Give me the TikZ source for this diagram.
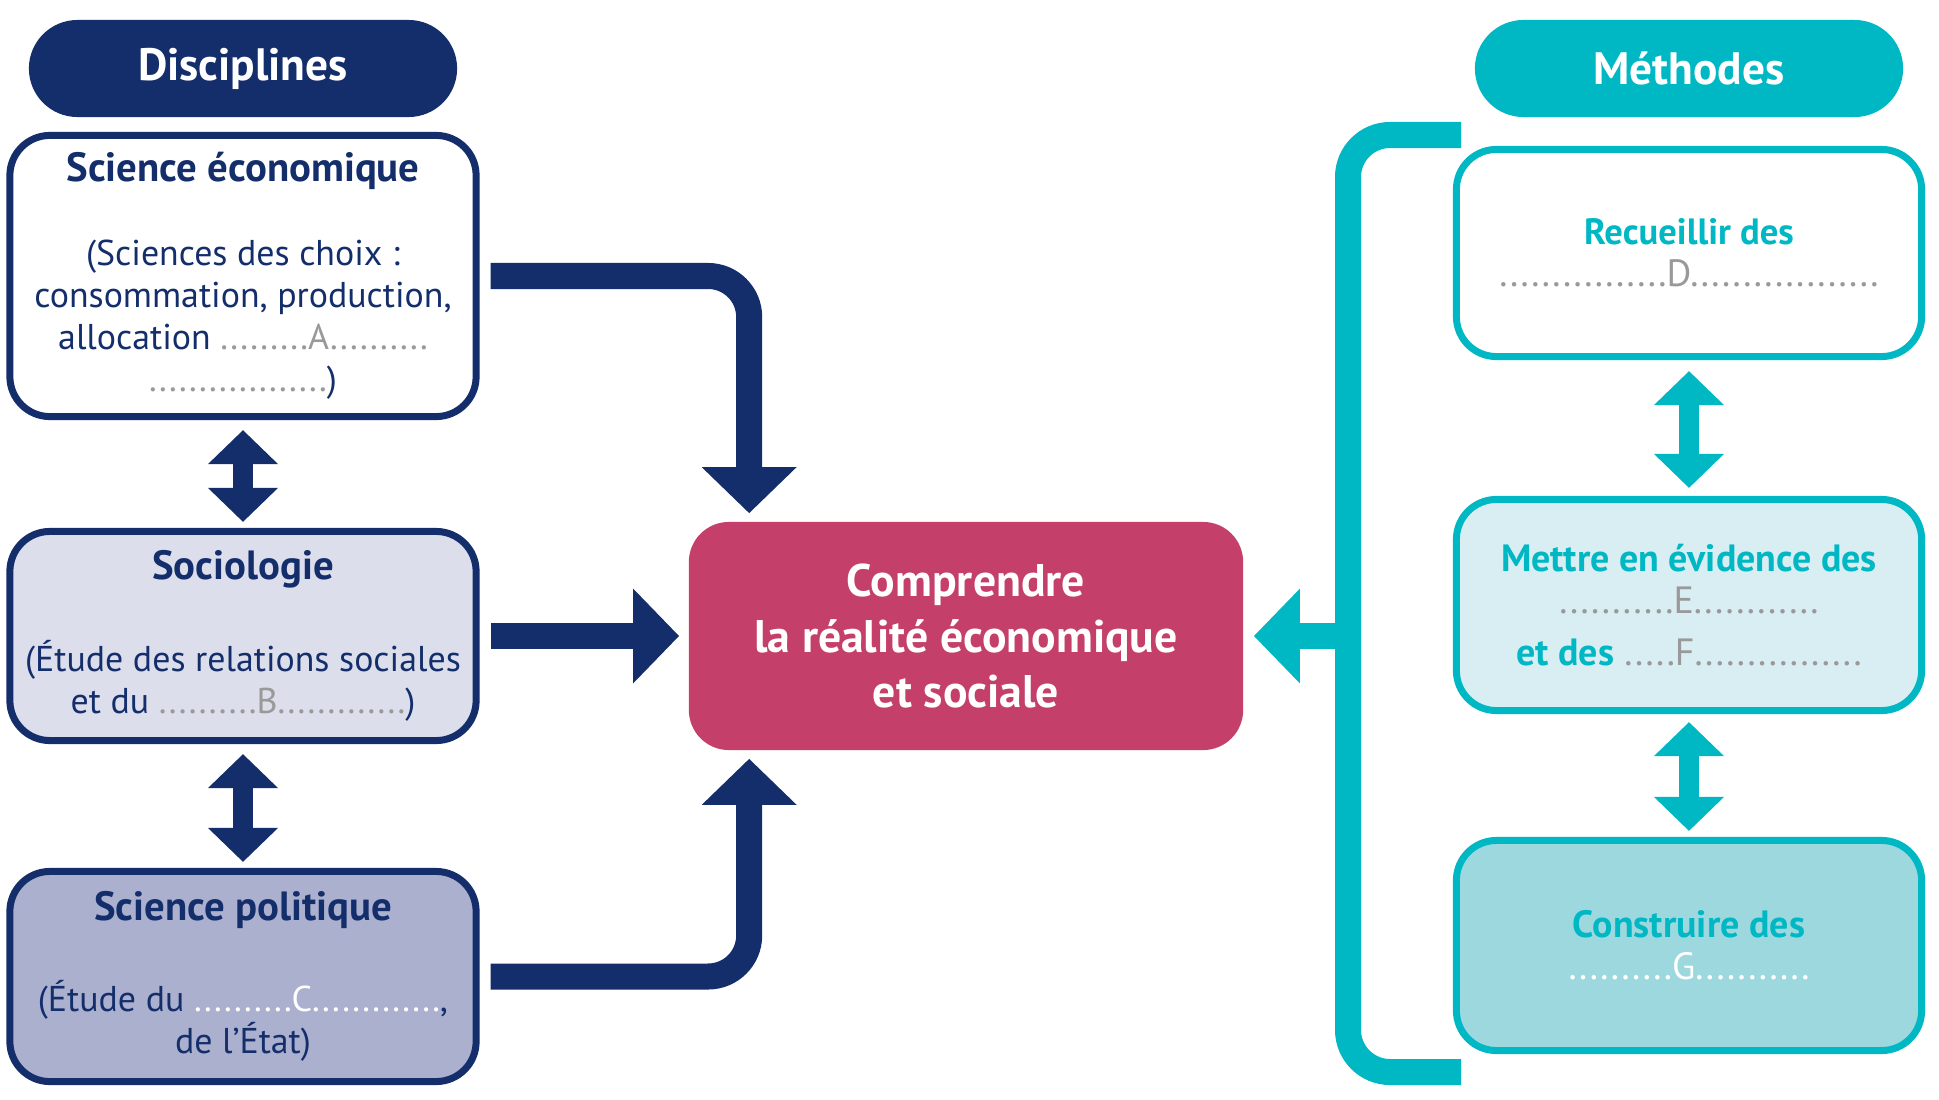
\documentclass[tikz,border=0pt]{standalone}
\usepackage{fontspec}
\setmainfont{PT Sans}
\usepackage{xcolor}
\usepackage{tikz}
\usetikzlibrary{arrows.meta}
\definecolor{navy}{HTML}{142E6C}
\definecolor{lagoon}{HTML}{00B7C4}
\definecolor{raspberry}{HTML}{C4406B}
\definecolor{lavender}{HTML}{DCDEEB}
\definecolor{periwinkle}{HTML}{ABB0CE}
\definecolor{mist}{HTML}{D9EEF2}
\definecolor{lagoonpale}{HTML}{9DD8DF}
\definecolor{dotgray}{HTML}{999999}
\newcommand{\fillin}[1]{\textcolor{dotgray}{#1}}
\newcommand{\fillwhite}[1]{\textcolor{white}{#1}}
\newcommand{\boxtitle}[1]{{\fontsize{11.6}{11.95}\selectfont\bfseries #1}}

\begin{document}
\begin{tikzpicture}[x=0.01cm,y=-0.01cm,
  header/.style={fill=#1,rounded corners=0.485cm,minimum width=4.28cm,minimum height=0.97cm,
    inner sep=0pt,text=white,font=\fontsize{12.9}{14}\selectfont\bfseries},
  discbox/.style={draw=navy,fill=#1,line width=0.07cm,rounded corners=0.4cm,
    minimum width=4.66cm,inner sep=0pt,align=center,text=navy,
    font=\fontsize{10.2}{11.95}\selectfont},
  methbox/.style={draw=lagoon,fill=#1,line width=0.07cm,rounded corners=0.4cm,
    minimum width=4.65cm,minimum height=2.1cm,inner sep=0pt,align=center,text=lagoon,
    font=\fontsize{10.8}{11.95}\selectfont},
  hub/.style={fill=raspberry,rounded corners=0.4cm,minimum width=5.54cm,minimum height=2.28cm,
    inner sep=0pt,align=center,text=white,font=\fontsize{13}{15.9}\selectfont\bfseries},
  bigarrow/.style={#1,line width=0.26cm,-{Triangle[width=0.92cm,length=0.46cm]}},
  twoway/.style={#1,line width=0.195cm,
    {Triangle[width=0.68cm,length=0.34cm]}-{Triangle[width=0.68cm,length=0.34cm]}},
]
  \useasboundingbox (0,0) rectangle (1939,1100);

  % headers
  \node[header=navy] (disc) at (243,68.5) {Disciplines};
  \node[header=lagoon] (meth) at (1689,68.5) {Méthodes};

  % disciplines
  \node[discbox=white,minimum height=2.81cm] (eco) at (243,276)
    {\boxtitle{Science économique}\\[12pt]
     (Sciences des choix :\\
     consommation, production,\\
     allocation \fillin{.........A..........}\\
     \fillin{..................})};
  \node[discbox=lavender,minimum height=2.09cm] (socio) at (243,636)
    {\boxtitle{Sociologie}\\[14pt]
     (Étude des relations sociales\\
     et du \fillin{..........B.............})};
  \node[discbox=periwinkle,minimum height=2.10cm] (polit) at (243,976.5)
    {\boxtitle{Science politique}\\[14pt]
     (Étude du \fillwhite{..........C.............},\\
     de l’État)};

  % centre
  \node[hub] (hub) at (966,636) {Comprendre\\la réalité économique\\et sociale};

  % methodes
  \node[methbox=white,minimum height=2.07cm] (recueil) at (1689,253)
    {{\fontsize{10.4}{11.95}\selectfont\bfseries Recueillir des}\\
     \fillin{................D..................}};
  \node[methbox=mist,minimum height=2.11cm] (evid) at (1689,605)
    {\textbf{Mettre en évidence des}\\
     \fillin{...........E............}\\[2.8pt]
     \textbf{et des} \fillin{.....F................}};
  \node[methbox=lagoonpale,minimum height=2.10cm] (constr) at (1689,945.5)
    {\textbf{Construire des}\\
     \fillwhite{..........G...........}};

  % arrows towards the centre
  \draw[bigarrow=navy,rounded corners=0.41cm] ([xshift=0.11cm]eco.east)
    -| ([xshift=0.61cm,yshift=0.08cm]hub.north west);
  \draw[bigarrow=navy] ([xshift=0.11cm]socio.east) -- ([xshift=-0.09cm]hub.west);
  \draw[bigarrow=navy,rounded corners=0.41cm] ([xshift=0.11cm]polit.east)
    -| ([xshift=0.61cm,yshift=-0.08cm]hub.south west);

  % bracket of the methods
  \coordinate (brtop) at (1461,135);
  \coordinate (brmid) at (1348,636);
  \coordinate (brbot) at (1461,1072);
  \draw[lagoon,line width=0.26cm,rounded corners=0.42cm] (brtop) -| (brmid) |- (brbot);
  \draw[bigarrow=lagoon] (brmid) -- ([xshift=0.10cm]hub.east);

  % two-way links
  \draw[twoway=navy] ([yshift=-0.10cm]eco.south) -- ([yshift=0.06cm]socio.north);
  \draw[twoway=navy] ([yshift=-0.10cm]socio.south) -- ([yshift=0.06cm]polit.north);
  \draw[twoway=lagoon] ([yshift=-0.11cm]recueil.south) -- ([yshift=0.08cm]evid.north);
  \draw[twoway=lagoon] ([yshift=-0.08cm]evid.south) -- ([yshift=0.06cm]constr.north);
\end{tikzpicture}
\end{document}
